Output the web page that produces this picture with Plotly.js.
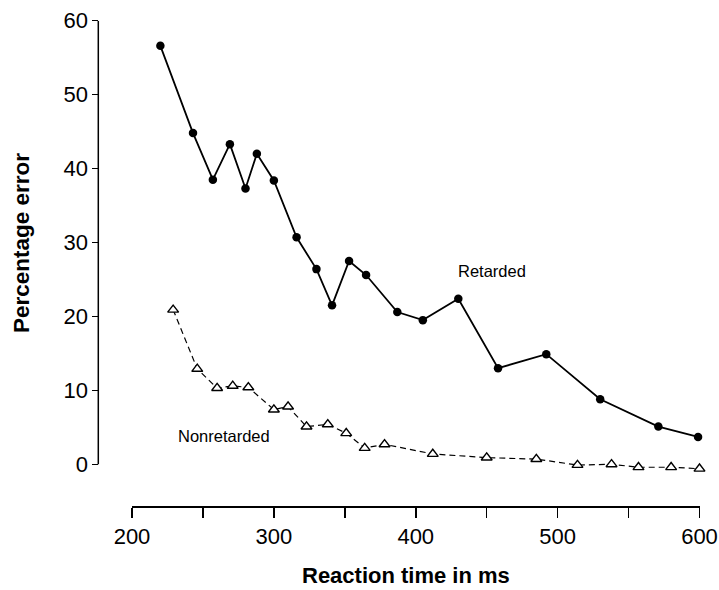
<!DOCTYPE html>
<html>
<head>
<meta charset="utf-8">
<script src="https://cdn.plot.ly/plotly-3.0.1.min.js"></script>
<style>html,body{margin:0;padding:0;background:#fff;}#chart{width:719px;height:590px;}</style>
</head>
<body>
<div id="chart"></div>
<script>
// Reaction time (ms) and percentage error
const retardedRT = [220, 243, 257, 269, 280, 288, 300, 316, 330, 341, 353, 365, 387, 405, 430, 458, 492, 530, 571, 599];
const retardedErr = [56.6, 44.8, 38.5, 43.3, 37.3, 42.0, 38.4, 30.7, 26.4, 21.5, 27.5, 25.6, 20.6, 19.5, 22.4, 13.0, 14.9, 8.8, 5.1, 3.7];
const nonretardedRT = [229, 246, 260, 271, 282, 300, 310, 323, 338, 351, 364, 378, 412, 450, 485, 514, 538, 557, 580, 600];
const nonretardedErr = [20.9, 12.9, 10.3, 10.6, 10.4, 7.4, 7.8, 5.1, 5.4, 4.2, 2.2, 2.7, 1.4, 0.9, 0.7, -0.1, 0.0, -0.4, -0.4, -0.6];
const xTickStep = 100;
const yTickStep = 10;
const xRange = [200, 600];
const yTop = 60;

const W = 719, H = 590;
const fx = px => px / W;
const fy = py => 1 - py / H;

// plot geometry in pixels
const xLeft = 132, xRight = 699.5, xAxisY = 506;
const yAxisX = 98.3, yTopPx = 20.7, yZeroPx = 464.3, yBottomPx = 482;
const pxPerUnit = (yZeroPx - yTopPx) / yTop;
const yLow = -(yBottomPx - yZeroPx) / pxPerUnit;

const font = 'Liberation Sans, Arial, Helvetica, sans-serif';

const traces = [
  {
    x: retardedRT, y: retardedErr, name: 'Retarded',
    mode: 'lines+markers', type: 'scatter',
    line: {color: '#000', width: 1.8},
    marker: {color: '#000', size: 8.5, symbol: 'circle'},
    cliponaxis: false
  },
  {
    x: nonretardedRT, y: nonretardedErr, name: 'Nonretarded',
    mode: 'lines+markers', type: 'scatter',
    line: {color: '#000', width: 1.2, dash: '6px,4px'},
    marker: {color: '#fff', size: 9.5, symbol: 'triangle-up', line: {color: '#000', width: 1.4}},
    cliponaxis: false
  }
];

const layout = {
  width: W, height: H, autosize: false,
  margin: {l: 0, r: 0, t: 0, b: 0},
  paper_bgcolor: '#fff', plot_bgcolor: '#fff',
  showlegend: false,
  font: {family: font, color: '#000'},
  xaxis: {
    domain: [fx(xLeft), fx(xRight)], range: xRange,
    anchor: 'free', position: fy(xAxisY),
    showline: true, linecolor: '#000', linewidth: 1.5,
    ticks: 'outside', ticklen: 10, tickwidth: 1.5, tickcolor: '#000',
    tick0: 0, dtick: xTickStep,
    minor: {dtick: xTickStep / 2, ticks: 'outside', ticklen: 10, tickwidth: 1.5, tickcolor: '#000', showgrid: false},
    tickfont: {family: font, size: 22, color: '#000'},
    showgrid: false, zeroline: false, automargin: false, fixedrange: true
  },
  yaxis: {
    domain: [fy(yBottomPx), fy(yTopPx)], range: [yLow, yTop],
    anchor: 'free', position: fx(yAxisX),
    showline: false,
    ticks: 'outside', ticklen: 6, tickwidth: 1.5, tickcolor: '#000',
    tick0: 0, dtick: yTickStep,
    tickfont: {family: font, size: 22, color: '#000'},
    showgrid: false, zeroline: false, automargin: false, fixedrange: true
  },
  shapes: [
    {type: 'line', xref: 'paper', yref: 'y', x0: fx(yAxisX), x1: fx(yAxisX), y0: 0, y1: yTop,
     line: {color: '#000', width: 1.5}}
  ],
  annotations: [
    {text: 'Retarded', xref: 'paper', yref: 'paper', x: fx(456), y: fy(271), xanchor: 'left', yanchor: 'middle',
     showarrow: false, font: {family: font, size: 16.5, color: '#000'}},
    {text: 'Nonretarded', xref: 'paper', yref: 'paper', x: fx(176), y: fy(436), xanchor: 'left', yanchor: 'middle',
     showarrow: false, font: {family: font, size: 16.5, color: '#000'}},
    {text: '<b>Reaction time in ms</b>', xref: 'paper', yref: 'paper', x: fx(406), y: fy(575), xanchor: 'center', yanchor: 'middle',
     showarrow: false, font: {family: font, size: 22, color: '#000'}},
    {text: '<b>Percentage error</b>', xref: 'paper', yref: 'paper', x: fx(21), y: fy(243), xanchor: 'center', yanchor: 'middle',
     textangle: -90, showarrow: false, font: {family: font, size: 22.5, color: '#000'}}
  ]
};

Plotly.newPlot('chart', traces, layout, {staticPlot: true, displayModeBar: false});
</script>
</body>
</html>
